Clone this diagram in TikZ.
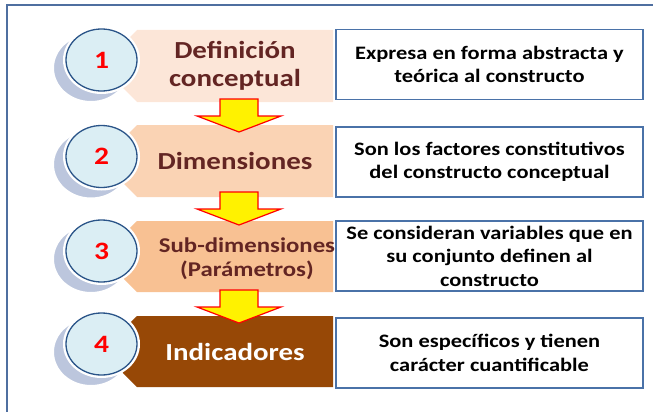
\documentclass[tikz,border=0pt]{standalone}
\usepackage{fontspec}
\setmainfont{Carlito}[FakeStretch=1.18]
\usetikzlibrary{shapes.geometric}

\definecolor{StepOne}{HTML}{FCE6D8}
\definecolor{StepTwo}{HTML}{FAD3B4}
\definecolor{StepThree}{HTML}{F8C193}
\definecolor{StepFour}{HTML}{974806}
\definecolor{StepText}{HTML}{632523}
\definecolor{DiscFill}{HTML}{DBEEF4}
\definecolor{DiscLine}{HTML}{2A5488}
\definecolor{DiscShadow}{HTML}{BCC6DD}
\definecolor{NoteLine}{HTML}{4A72A8}
\definecolor{FrameLine}{HTML}{4F6FA0}

\begin{document}
\begin{tikzpicture}[x=1pt, y=-1pt,
    disc/.style={ellipse, draw=DiscLine, line width=1.3pt, fill=DiscFill,
        preaction={draw=white, line width=6pt},
        minimum width=71pt, minimum height=62pt, inner sep=0pt,
        text=red, font=\fontsize{25}{28}\selectfont\bfseries},
    shade/.style={fill=DiscShadow, draw=white, line width=2pt},
    steptext/.style={align=center, text=StepText, inner sep=0pt,
        font=\fontsize{24.5}{28}\selectfont\bfseries},
    note/.style={draw=NoteLine, line width=1.4pt, fill=white, align=center,
        minimum width=307pt, minimum height=70pt, inner sep=0pt,
        font=\fontsize{19}{23.5}\selectfont\bfseries},
    flow/.style={fill=yellow, draw=red, line width=1.2pt, line join=miter}]

\useasboundingbox (0,0) rectangle (653,412);

% outer frame
\draw[FrameLine, line width=1.5pt] (7,420) -- (7,5) -- (660,5);

% bands
\fill[StepOne]   (101,66)    -- (137,30)  -- (333,30)  -- (333,102) -- (137,102) -- cycle;
\fill[StepTwo]   (101,161)   -- (137,125) -- (333,125) -- (333,197) -- (137,197) -- cycle;
\fill[StepThree] (101,256.5) -- (137,221) -- (333,221) -- (333,292) -- (137,292) -- cycle;
\fill[StepFour]  (101,351.5) -- (137,316) -- (333,316) -- (333,387) -- (137,387) -- cycle;

% block arrows
\coordinate (a1) at (239,99);
\coordinate (a2) at (239,192);
\coordinate (a3) at (239,290);
\draw[flow] (a1) ++(-19,0) -- ++(38,0) -- ++(0,17) -- ++(23,0) -- ++(-42,16) -- ++(-42,-16) -- ++(23,0) -- cycle;
\draw[flow] (a2) ++(-19,0) -- ++(38,0) -- ++(0,17) -- ++(23,0) -- ++(-42,16) -- ++(-42,-16) -- ++(23,0) -- cycle;
\draw[flow] (a3) ++(-19,0) -- ++(38,0) -- ++(0,17) -- ++(23,0) -- ++(-42,16) -- ++(-42,-16) -- ++(23,0) -- cycle;

% shadows and discs
\draw[shade] (91,68)    ellipse [x radius=38pt, y radius=34pt];
\draw[shade] (91,164.5) ellipse [x radius=38pt, y radius=34pt];
\draw[shade] (91,259)   ellipse [x radius=38pt, y radius=34pt];
\draw[shade] (91,352)   ellipse [x radius=38pt, y radius=34pt];
\node[disc] (c1) at (101.5,60)  {1};
\node[disc] (c2) at (101.5,156.5) {2};
\node[disc] (c3) at (101.5,251) {3};
\node[disc] (c4) at (101.5,344) {4};

% band labels
\node[steptext] (t1) at (235,66)    {Definición\\conceptual};
\node[steptext] (t2) at (235,161)   {Dimensiones};
\node[steptext, font=\fontsize{21}{24}\selectfont\bfseries] (t3) at (247,259) {Sub-dimensiones\\(Parámetros)};
\node[steptext, text=white] (t4) at (235,351.5) {Indicadores};

% descriptions
\node[note] (n1) at (489.5,64.5) {Expresa en forma abstracta y\\teórica al constructo};
\node[note] (n2) at (489.5,162)  {Son los factores constitutivos\\del constructo conceptual};
\node[note] (n3) at (489.5,256)  {Se consideran variables que en\\su conjunto definen al\\constructo};
\node[note] (n4) at (489.5,353)  {Son específicos y tienen\\carácter cuantificable};

\end{tikzpicture}
\end{document}
